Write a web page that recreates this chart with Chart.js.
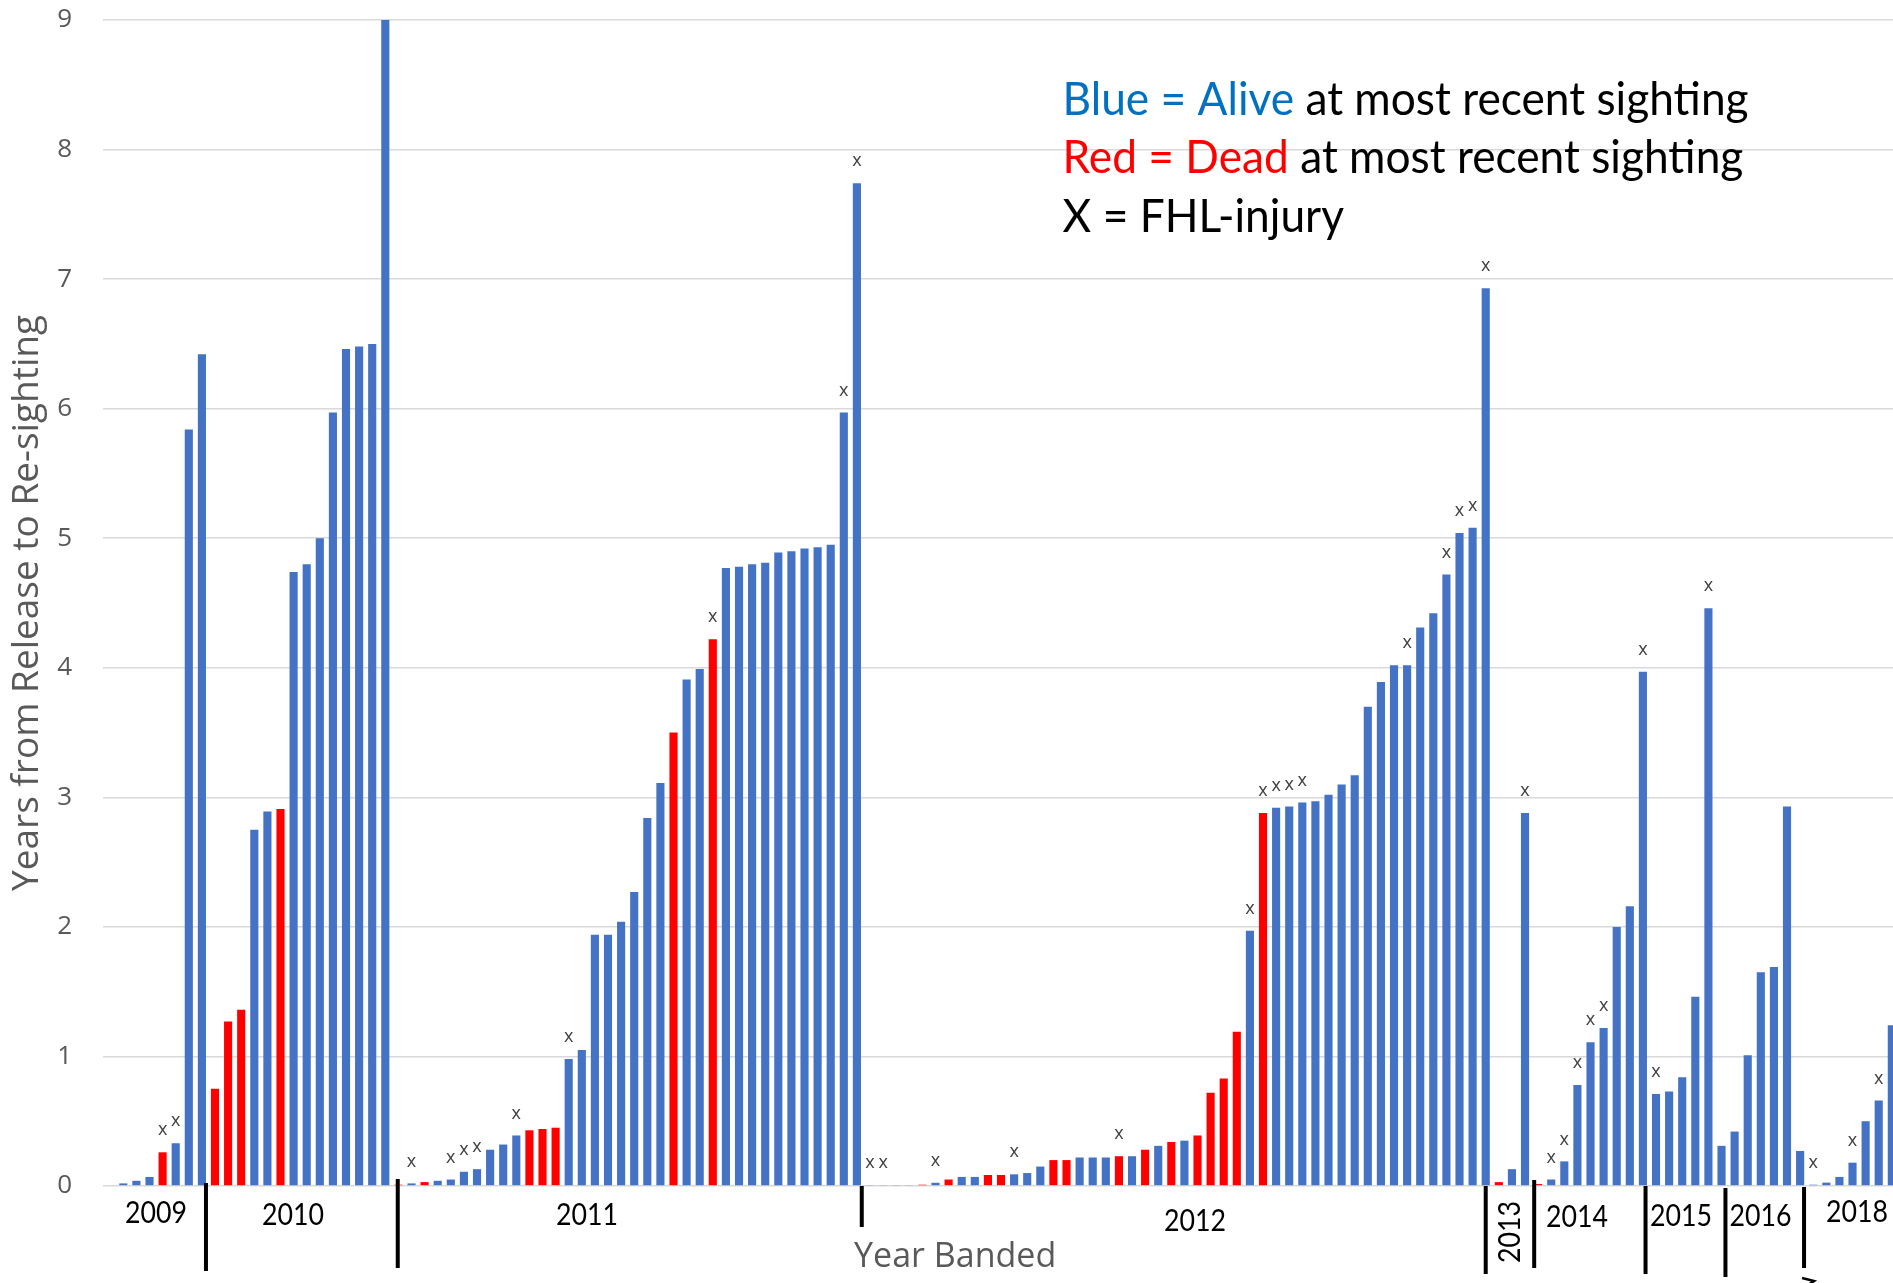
<!DOCTYPE html>
<html>
<head>
<meta charset="utf-8">
<script src="https://cdn.jsdelivr.net/npm/chart.js@4.4.1/dist/chart.umd.min.js"></script>
<style>
html,body{margin:0;padding:0;background:#ffffff;overflow:hidden;}
canvas{display:block;}
</style>
</head>
<body>
<canvas id="c" width="1893" height="1283"></canvas>
<script>
// ---------- DATA ----------
const years = ['2009', '2010', '2011', '2012', '2013', '2014', '2015', '2016', '2018'];

// years from release to re-sighting, one entry per banded bird, grouped by year banded
const values2009 = [0.02, 0.04, 0.07, 0.26, 0.33, 5.84, 6.42];
const values2010 = [0.75, 1.27, 1.36, 2.75, 2.89, 2.91, 4.74, 4.80, 5.00, 5.97, 6.46, 6.48, 6.50, 9.00];
const values2011 = [0.01, 0.02, 0.03, 0.04, 0.05, 0.11, 0.13, 0.28, 0.32, 0.39, 0.43, 0.44, 0.45, 0.98, 1.05, 1.94, 1.94, 2.04,
                    2.27, 2.84, 3.11, 3.50, 3.91, 3.99, 4.22, 4.77, 4.78, 4.80, 4.81, 4.89, 4.90, 4.92, 4.93, 4.95, 5.97, 7.74];
const values2012 = [0.005, 0.005, 0.005, 0.005, 0.01, 0.025, 0.05, 0.07, 0.07, 0.085, 0.085, 0.09, 0.10, 0.15, 0.20, 0.20,
                    0.22, 0.22, 0.22, 0.23, 0.23, 0.28, 0.31, 0.34, 0.35, 0.39, 0.72, 0.83, 1.19, 1.97, 2.88, 2.92,
                    2.93, 2.96, 2.97, 3.02, 3.10, 3.17, 3.70, 3.89, 4.02, 4.02, 4.31, 4.42, 4.72, 5.04, 5.08, 6.93];
const values2013 = [0.03, 0.13, 2.88];
const values2014 = [0.015, 0.05, 0.19, 0.78, 1.11, 1.22, 2.00, 2.16, 3.97];
const values2015 = [0.71, 0.73, 0.84, 1.46, 4.46, 0.31];
const values2016 = [0.42, 1.01, 1.65, 1.69, 2.93, 0.27];
const values2018 = [0.01, 0.026, 0.07, 0.18, 0.50, 0.66, 1.24];

// 1 = dead at most recent sighting (red), 0 = alive (blue)
const dead2009 = [0, 0, 0, 1, 0, 0, 0];
const dead2010 = [1, 1, 1, 0, 0, 1, 0, 0, 0, 0, 0, 0, 0, 0];
const dead2011 = [1, 0, 1, 0, 0, 0, 0, 0, 0, 0, 1, 1, 1, 0, 0, 0, 0, 0,
                  0, 0, 0, 1, 0, 0, 1, 0, 0, 0, 0, 0, 0, 0, 0, 0, 0, 0];
const dead2012 = [0, 0, 0, 0, 1, 0, 1, 0, 0, 1, 1, 0, 0, 0, 1, 1,
                  0, 0, 0, 1, 0, 1, 0, 1, 0, 1, 1, 1, 1, 0, 1, 0,
                  0, 0, 0, 0, 0, 0, 0, 0, 0, 0, 0, 0, 0, 0, 0, 0];
const dead2013 = [1, 0, 0];
const dead2014 = [1, 0, 0, 0, 0, 0, 0, 0, 0];
const dead2015 = [0, 0, 0, 0, 0, 0];
const dead2016 = [0, 0, 0, 0, 0, 0];
const dead2018 = [0, 0, 0, 0, 0, 0, 0];

// 1 = FHL-injury ("x" above the bar)
const fhl2009 = [0, 0, 0, 1, 1, 0, 0];
const fhl2010 = [0, 0, 0, 0, 0, 0, 0, 0, 0, 0, 0, 0, 0, 0];
const fhl2011 = [0, 1, 0, 0, 1, 1, 1, 0, 0, 1, 0, 0, 0, 1, 0, 0, 0, 0,
                 0, 0, 0, 0, 0, 0, 1, 0, 0, 0, 0, 0, 0, 0, 0, 0, 1, 1];
const fhl2012 = [1, 1, 0, 0, 0, 1, 0, 0, 0, 0, 0, 1, 0, 0, 0, 0,
                 0, 0, 0, 1, 0, 0, 0, 0, 0, 0, 0, 0, 0, 1, 1, 1,
                 1, 1, 0, 0, 0, 0, 0, 0, 0, 1, 0, 0, 1, 1, 1, 1];
const fhl2013 = [0, 0, 1];
const fhl2014 = [0, 1, 1, 1, 1, 1, 0, 0, 1];
const fhl2015 = [1, 0, 0, 0, 1, 0];
const fhl2016 = [0, 0, 0, 0, 0, 0];
const fhl2018 = [1, 0, 0, 1, 0, 1, 0];

const yTicks = [0, 1, 2, 3, 4, 5, 6, 7, 8, 9];

const legendLines = [
  [['Blue = Alive', '#0070C0'], [' at most recent sighting', '#000000']],
  [['Red = Dead', '#FF0000'], [' at most recent sighting', '#000000']],
  [['X = FHL-injury', '#000000']]
];

// ---------- build library inputs from the arrays ----------
const valueGroups = [values2009, values2010, values2011, values2012, values2013, values2014, values2015, values2016, values2018];
const deadGroups = [dead2009, dead2010, dead2011, dead2012, dead2013, dead2014, dead2015, dead2016, dead2018];
const fhlGroups = [fhl2009, fhl2010, fhl2011, fhl2012, fhl2013, fhl2014, fhl2015, fhl2016, fhl2018];

const allValues = [].concat(...valueGroups);
const allDead = [].concat(...deadGroups);
const allFhl = [].concat(...fhlGroups);
const points = allValues.map((v, i) => ({x: i, y: v}));

const BLUE = '#4472C4';
const RED = '#FF0000';
const GREY = '#595959';

// annotation placement (in category units along the x scale, pixel offsets below the axis)
const yearLabelPlacement = [
  {at: 2.5, dy: 27}, {at: 12.95, dy: 29}, {at: 35.4, dy: 29}, {at: 81.8, dy: 35},
  {at: 105.85, dy: 46, rotate: true}, {at: 110.97, dy: 31}, {at: 118.9, dy: 30},
  {at: 124.98, dy: 30}, {at: 132.35, dy: 26}
];
const separatorPlacement = [
  {at: 6.31, from: -3, to: 85}, {at: 20.95, from: -7, to: 82}, {at: 56.37, from: 0, to: 41},
  {at: 104.0, from: 0, to: 88}, {at: 107.7, from: -6, to: 82}, {at: 116.2, from: 0, to: 88},
  {at: 122.3, from: 2, to: 91}, {at: 128.3, from: 1, to: 82}
];

function squeezeText(ctx, text, x, y, sx, rot) {
  ctx.save();
  ctx.translate(x, y);
  if (rot) ctx.rotate(rot);
  ctx.scale(sx, 1);
  ctx.fillText(text, 0, 0);
  ctx.restore();
}

const overlay = {
  id: 'overlay',
  afterDatasetsDraw(chart) {
    const {ctx, chartArea, scales} = chart;
    const xs = scales.x, ys = scales.y;
    const bottom = chartArea.bottom;

    // FHL-injury marks
    ctx.save();
    ctx.fillStyle = '#404040';
    ctx.font = '18px "Open Sans"';
    ctx.textAlign = 'center';
    ctx.textBaseline = 'middle';
    allValues.forEach((v, i) => {
      if (allFhl[i]) ctx.fillText('x', xs.getPixelForValue(i), ys.getPixelForValue(v) - 22);
    });
    ctx.restore();

    // year separators
    ctx.save();
    ctx.strokeStyle = '#000000';
    ctx.lineWidth = 4;
    separatorPlacement.forEach(s => {
      const px = xs.getPixelForValue(s.at);
      ctx.beginPath();
      ctx.moveTo(px, bottom + s.from);
      ctx.lineTo(px, bottom + s.to);
      ctx.stroke();
    });
    // small arrow fragment at the bottom edge
    const ax = xs.getPixelForValue(128.3);
    ctx.lineWidth = 2.5;
    ctx.beginPath();
    ctx.moveTo(ax - 2, bottom + 92);
    ctx.lineTo(ax + 10, bottom + 95);
    ctx.lineTo(ax + 4, bottom + 99);
    ctx.stroke();
    ctx.restore();

    // year labels
    ctx.save();
    ctx.fillStyle = '#000000';
    ctx.font = '31px Lato';
    ctx.textAlign = 'center';
    ctx.textBaseline = 'middle';
    const ysx = 62 / ctx.measureText('2014').width;
    years.forEach((yr, k) => {
      const p = yearLabelPlacement[k];
      squeezeText(ctx, yr, xs.getPixelForValue(p.at), bottom + p.dy, ysx, p.rotate ? -Math.PI / 2 : 0);
    });
    ctx.restore();

    // x-axis title
    ctx.save();
    ctx.fillStyle = GREY;
    ctx.font = '34px "Open Sans"';
    ctx.textAlign = 'center';
    ctx.textBaseline = 'middle';
    ctx.fillText('Year Banded', xs.getPixelForValue(63.5), bottom + 71);
    ctx.restore();

    // legend text
    ctx.save();
    ctx.font = '46px Lato';
    ctx.textAlign = 'left';
    ctx.textBaseline = 'alphabetic';
    const full0 = legendLines[0].map(p => p[0]).join('');
    const lsx = 686 / ctx.measureText(full0).width;
    const lx = xs.getPixelForValue(71.7);
    const baselines = [115, 173, 232];
    legendLines.forEach((parts, li) => {
      ctx.save();
      ctx.translate(lx, baselines[li]);
      ctx.scale(lsx, 1);
      let cx = 0;
      parts.forEach(([txt, col]) => {
        ctx.fillStyle = col;
        ctx.fillText(txt, cx, 0);
        cx += ctx.measureText(txt).width;
      });
      ctx.restore();
    });
    ctx.restore();
  }
};

new Chart(document.getElementById('c'), {
  type: 'bar',
  data: {
    datasets: [{
      label: 'Years from Release to Re-sighting',
      data: points,
      backgroundColor: allDead.map(d => d ? RED : BLUE),
      borderWidth: 0,
      barPercentage: 0.62,
      categoryPercentage: 1.0
    }]
  },
  options: {
    responsive: false,
    devicePixelRatio: 1,
    animation: false,
    layout: {padding: {left: 0, right: 0, top: 20, bottom: 97}},
    plugins: {legend: {display: false}, tooltip: {enabled: false}, title: {display: false}},
    scales: {
      x: {
        type: 'linear',
        display: false,
        offset: false,
        min: -1.55,
        max: 135.09
      },
      y: {
        type: 'linear',
        min: 0,
        max: 9,
        afterBuildTicks: (scale) => { scale.ticks = yTicks.map(v => ({value: v})); },
        afterFit: (scale) => { scale.width = 103; },
        border: {display: false},
        grid: {color: '#d9d9d9', lineWidth: 1.6, drawTicks: true, tickLength: 31, tickColor: 'rgba(0,0,0,0)'},
        ticks: {
          color: GREY,
          font: {family: '"Open Sans"', size: 26},
          padding: 0
        },
        title: {
          display: true,
          text: 'Years from Release to Re-sighting',
          color: GREY,
          font: {family: '"Open Sans"', size: 37},
          padding: {top: 5, bottom: 0}
        }
      }
    }
  },
  plugins: [overlay]
});
</script>
</body>
</html>
